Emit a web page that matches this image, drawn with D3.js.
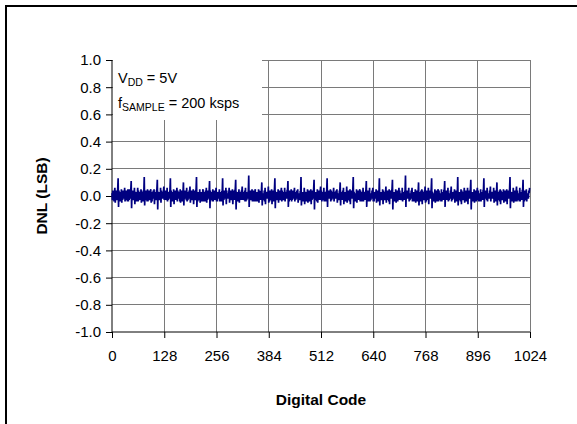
<!DOCTYPE html>
<html><head><meta charset="utf-8">
<script src="https://cdn.jsdelivr.net/npm/d3@7"></script>
<style>html,body{margin:0;padding:0;background:#fff;}svg{display:block;font-family:"Liberation Sans",Arial,sans-serif;}</style>
</head><body>
<script>
const xTicks = [0,128,256,384,512,640,768,896,1024];
const xTickLabels = ["0","128","256","384","512","640","768","896","1024"];
const yTicks = [-1.0,-0.8,-0.6,-0.4,-0.2,0.0,0.2,0.4,0.6,0.8,1.0];
const yTickLabels = ["-1.0","-0.8","-0.6","-0.4","-0.2","0.0","0.2","0.4","0.6","0.8","1.0"];
const xLabel = "Digital Code";
const yLabel = "DNL (LSB)";
// DNL per code (LSB), codes 0..1023, one row = 32 codes
const dnl = [
.02,-.03,.04,-.01,.03,-.04,.02,.06,-.05,.03,-.02,.04,-.03,.01,.05,.13,-.08,.04,-.02,.03,-.04,.02,-.01,.05,-.05,.02,-.03,.04,-.02,.03,-.01,.06,
-.04,.03,-.02,.04,-.03,.02,-.04,.05,-.04,.02,-.03,.05,-.02,.03,.04,.11,-.09,.03,-.01,.04,-.03,.01,-.02,.06,-.06,.03,-.02,.03,-.04,.02,.01,.06,
-.04,.04,-.03,.02,-.02,.03,-.03,.05,-.05,.04,-.01,.03,-.04,.02,.03,.14,-.07,.02,-.03,.04,-.02,.03,-.04,.05,-.04,.01,-.02,.04,-.03,.02,.02,.05,
-.05,.02,-.04,.03,-.01,.04,-.02,.05,-.06,.03,-.02,.02,-.03,.04,.05,.12,-.10,.03,-.02,.03,-.03,.02,-.03,.06,-.05,.04,-.01,.03,-.02,.01,.03,.07,
-.03,.03,-.02,.04,-.03,.01,-.03,.06,-.04,.02,-.03,.03,-.02,.03,.04,.13,-.08,.04,-.03,.02,-.04,.03,-.02,.05,-.06,.02,-.02,.04,-.03,.03,.01,.06,
-.04,.04,-.01,.03,-.02,.03,-.04,.05,-.05,.03,-.02,.04,-.04,.02,.03,.10,-.07,.02,-.02,.04,-.02,.02,-.03,.06,-.04,.03,-.03,.02,-.02,.04,.02,.07,
-.05,.02,-.03,.04,-.03,.02,-.02,.05,-.06,.04,-.01,.02,-.03,.03,.05,.14,-.08,.03,-.04,.03,-.03,.01,-.02,.05,-.05,.02,-.02,.03,-.04,.02,.03,.05,
-.04,.03,-.02,.02,-.04,.04,-.03,.06,-.05,.02,-.03,.04,-.02,.02,.04,.11,-.09,.04,-.02,.02,-.03,.03,-.04,.05,-.04,.03,-.01,.04,-.03,.03,.02,.06,
-.04,.02,-.04,.03,-.02,.03,-.02,.05,-.04,.03,-.02,.03,-.04,.03,.03,.13,-.07,.02,-.03,.04,-.02,.02,-.02,.06,-.06,.04,-.02,.02,-.02,.02,.01,.06,
-.05,.04,-.02,.04,-.03,.02,-.03,.05,-.06,.02,-.01,.04,-.03,.04,.05,.12,-.10,.03,-.02,.03,-.04,.03,-.03,.05,-.05,.02,-.03,.03,-.03,.04,.03,.07,
-.03,.03,-.03,.02,-.02,.04,-.04,.06,-.04,.03,-.03,.02,-.02,.02,.04,.15,-.08,.04,-.01,.04,-.03,.02,-.02,.05,-.04,.03,-.02,.04,-.04,.02,.02,.05,
-.04,.02,-.02,.03,-.04,.03,-.02,.05,-.05,.04,-.02,.03,-.03,.03,.03,.10,-.07,.02,-.03,.02,-.02,.04,-.04,.06,-.06,.02,-.01,.03,-.02,.03,.01,.07,
-.05,.03,-.04,.04,-.02,.02,-.03,.05,-.06,.02,-.03,.04,-.04,.02,.05,.13,-.09,.03,-.02,.03,-.03,.02,-.02,.05,-.05,.04,-.02,.02,-.03,.04,.03,.06,
-.04,.04,-.02,.02,-.03,.03,-.03,.06,-.04,.03,-.01,.03,-.02,.04,.04,.11,-.08,.04,-.04,.04,-.02,.03,-.03,.05,-.04,.02,-.03,.04,-.02,.02,.02,.06,
-.04,.02,-.03,.03,-.02,.04,-.02,.05,-.05,.02,-.02,.02,-.03,.03,.03,.14,-.07,.02,-.02,.03,-.04,.01,-.02,.06,-.06,.03,-.02,.03,-.04,.03,.01,.05,
-.05,.03,-.02,.04,-.04,.02,-.04,.05,-.06,.04,-.03,.04,-.02,.02,.05,.12,-.10,.03,-.03,.02,-.03,.03,-.04,.05,-.05,.02,-.01,.04,-.03,.04,.03,.07,
-.03,.04,-.04,.02,-.03,.03,-.03,.06,-.04,.03,-.02,.03,-.04,.03,.04,.13,-.08,.04,-.01,.04,-.02,.02,-.02,.05,-.04,.04,-.03,.02,-.02,.03,.02,.06,
-.04,.02,-.02,.03,-.02,.04,-.02,.05,-.05,.02,-.03,.02,-.03,.04,.03,.10,-.07,.02,-.03,.03,-.03,.04,-.03,.06,-.06,.02,-.02,.03,-.04,.02,.01,.07,
-.05,.03,-.03,.04,-.03,.02,-.04,.05,-.06,.04,-.01,.04,-.02,.02,.05,.14,-.09,.03,-.02,.02,-.04,.02,-.02,.05,-.05,.03,-.02,.04,-.03,.03,.03,.05,
-.04,.04,-.02,.02,-.04,.03,-.03,.06,-.04,.03,-.02,.03,-.03,.03,.04,.11,-.08,.04,-.04,.04,-.02,.03,-.04,.06,-.04,.02,-.03,.02,-.02,.04,.02,.06,
-.04,.02,-.04,.03,-.02,.03,-.02,.05,-.05,.02,-.03,.04,-.04,.02,.03,.13,-.07,.02,-.02,.03,-.03,.01,-.02,.05,-.06,.04,-.01,.03,-.03,.02,.01,.07,
-.05,.03,-.02,.04,-.03,.04,-.04,.05,-.06,.04,-.02,.02,-.02,.04,.05,.12,-.10,.03,-.03,.02,-.04,.03,-.03,.05,-.05,.03,-.02,.04,-.04,.03,.03,.06,
-.03,.04,-.03,.02,-.02,.02,-.03,.06,-.04,.03,-.01,.03,-.03,.03,.04,.15,-.08,.04,-.02,.04,-.02,.02,-.02,.06,-.04,.02,-.03,.02,-.02,.04,.02,.06,
-.04,.02,-.02,.03,-.04,.03,-.02,.05,-.05,.02,-.03,.04,-.04,.02,.03,.10,-.07,.02,-.04,.03,-.03,.04,-.04,.05,-.06,.04,-.02,.03,-.03,.02,.01,.07,
-.05,.03,-.04,.04,-.02,.04,-.03,.06,-.06,.04,-.02,.02,-.02,.03,.05,.13,-.09,.03,-.01,.02,-.04,.02,-.02,.05,-.05,.03,-.01,.04,-.04,.03,.03,.05,
-.04,.04,-.02,.02,-.03,.02,-.04,.05,-.04,.03,-.03,.03,-.03,.04,.04,.11,-.08,.04,-.03,.04,-.02,.03,-.03,.06,-.04,.02,-.03,.02,-.02,.04,.02,.07,
-.04,.02,-.03,.03,-.02,.03,-.02,.05,-.05,.02,-.02,.04,-.04,.02,.03,.14,-.07,.02,-.02,.03,-.03,.01,-.04,.05,-.06,.04,-.02,.03,-.03,.02,.01,.06,
-.05,.03,-.02,.04,-.04,.04,-.03,.06,-.06,.04,-.01,.02,-.02,.03,.05,.12,-.10,.03,-.04,.02,-.04,.03,-.02,.05,-.05,.03,-.02,.04,-.04,.03,.03,.06,
-.03,.04,-.04,.02,-.03,.02,-.04,.05,-.04,.03,-.03,.03,-.03,.04,.04,.13,-.08,.04,-.02,.04,-.02,.02,-.03,.06,-.04,.02,-.01,.02,-.02,.04,.02,.07,
-.04,.02,-.02,.03,-.02,.03,-.02,.06,-.05,.02,-.02,.04,-.04,.02,.03,.10,-.07,.02,-.03,.03,-.03,.04,-.04,.05,-.06,.04,-.03,.03,-.03,.02,.01,.05,
-.05,.03,-.03,.04,-.04,.04,-.03,.05,-.06,.04,-.02,.02,-.02,.03,.05,.14,-.09,.03,-.01,.02,-.04,.03,-.02,.06,-.05,.03,-.02,.04,-.04,.03,.03,.07,
-.04,.04,-.02,.02,-.03,.02,-.04,.06,-.04,.03,-.03,.03,-.03,.04,.04,.12,-.08,.04,-.04,.04,-.02,.02,-.03,.05,-.04,.02,-.02,.02,-.02,.04,.02,.06
];

const W = 577, H = 424;
const svg = d3.select("body").append("svg").attr("width", W).attr("height", H);
svg.append("rect").attr("width", W).attr("height", H).attr("fill", "#fff");

// outer frame (left and top visible)
svg.append("path").attr("d", "M6,424V6H577").attr("fill", "none").attr("stroke", "#000").attr("stroke-width", 2);

const x = d3.scaleLinear().domain([0, 1024]).range([112, 530]);
const y = d3.scaleLinear().domain([-1, 1]).range([332, 60]);

const grid = svg.append("g").attr("stroke", "#7a7a7a").attr("stroke-width", 1).attr("shape-rendering", "crispEdges");
grid.selectAll("line.h").data(yTicks.filter(v => v > -1)).enter().append("line")
  .attr("x1", x(0)).attr("x2", x(1024)).attr("y1", d => y(d)).attr("y2", d => y(d));
grid.selectAll("line.v").data(xTicks.filter(v => v > 0)).enter().append("line")
  .attr("y1", y(-1)).attr("y2", y(1)).attr("x1", d => x(d)).attr("x2", d => x(d));

// legend box
svg.append("rect").attr("x", 113).attr("y", 59).attr("width", 149).attr("height", 61).attr("fill", "#fff");
const leg = svg.append("g").attr("font-size", 14.5).attr("fill", "#000");
const t1 = leg.append("text").attr("x", 118).attr("y", 83);
t1.append("tspan").text("V");
t1.append("tspan").attr("font-size", 10.5).attr("dy", 3).text("DD");
t1.append("tspan").attr("dy", -3).text(" = 5V");
const t2 = leg.append("text").attr("x", 118).attr("y", 108);
t2.append("tspan").text("f");
t2.append("tspan").attr("font-size", 10.5).attr("dy", 3).text("SAMPLE");
t2.append("tspan").attr("dy", -3).text(" = 200 ksps");

// axes
const yAxis = d3.axisLeft(y).tickValues(yTicks).tickSize(6).tickPadding(5).tickFormat((d, i) => yTickLabels[i]);
const gy = svg.append("g").attr("transform", `translate(${x(0)},0)`).call(yAxis);
const xAxis = d3.axisBottom(x).tickValues(xTicks).tickSize(6).tickPadding(12).tickFormat((d, i) => xTickLabels[i]);
const gx = svg.append("g").attr("transform", `translate(0,${y(-1)})`).call(xAxis);
[gx, gy].forEach(g => {
  g.attr("font-family", null).attr("font-size", null);
  g.selectAll("text").attr("font-size", 15).attr("fill", "#000").attr("font-family", "'Liberation Sans', Arial, sans-serif");
  g.selectAll("line").attr("stroke", "#000");
  g.select(".domain").attr("stroke", "#000");
});
gx.select(".domain").attr("d", `M${x(0)},0H${x(1024)}`);
gy.select(".domain").attr("d", `M0,${y(-1)}V${y(1)}`);

// data line
const line = d3.line().x((d, i) => x(i)).y(d => y(d));
svg.append("path").datum(dnl).attr("d", line).attr("fill", "none").attr("stroke", "#000080").attr("stroke-width", 1.7);

// axis titles
svg.append("text").attr("x", 321).attr("y", 405).attr("text-anchor", "middle")
  .attr("font-size", 15.5).attr("font-weight", "bold").text(xLabel);
svg.append("text").attr("transform", "translate(47,196) rotate(-90)").attr("text-anchor", "middle")
  .attr("font-size", 15.5).attr("font-weight", "bold").text(yLabel);
</script>
</body></html>
